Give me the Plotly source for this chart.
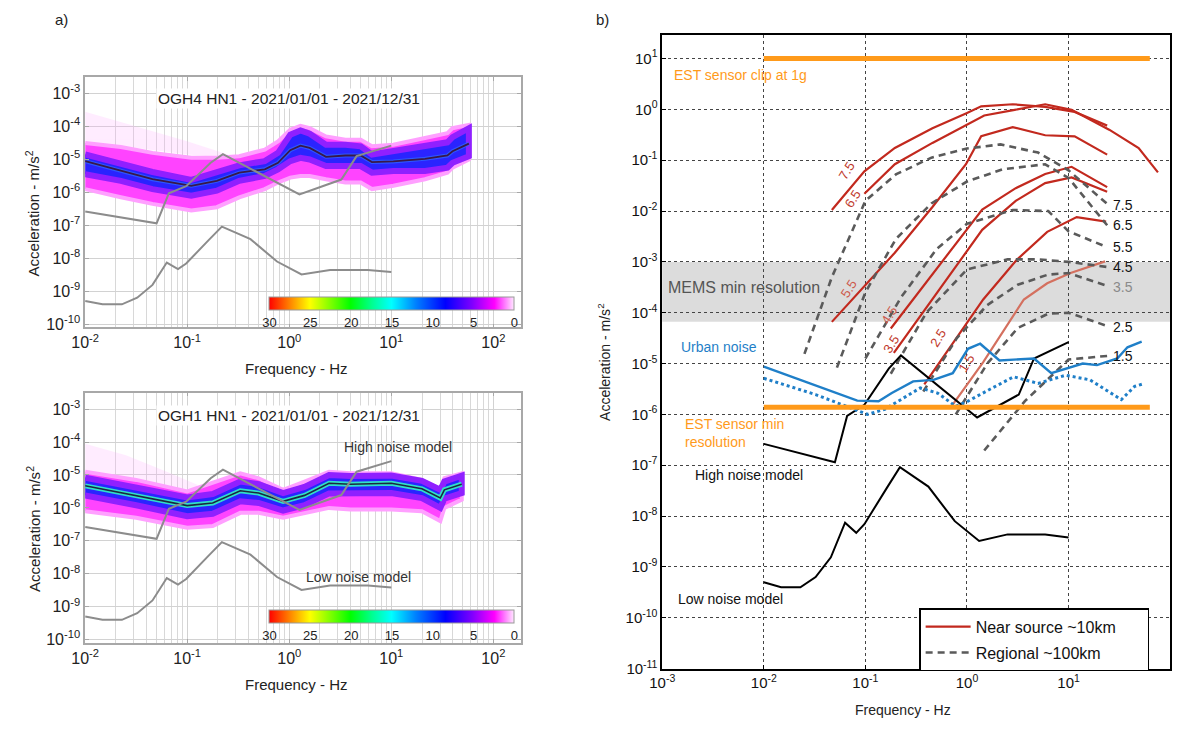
import numpy as np
import plotly.graph_objects as go

W, H = 1181, 731

# ---------------- data (log10 Hz, log10 m/s^2) ----------------
# Peterson noise models
nhnm_logf = [-2.0, -1.30, -1.18, -1.01, -0.77, -0.65, 0.10, 0.51, 0.66, 1.0]
nhnm_loga = [-6.58, -6.94, -6.03, -5.81, -5.10, -4.84, -6.06, -5.61, -4.90, -4.58]
nlnm_logf = [-2.0, -1.83, -1.64, -1.49, -1.34, -1.20, -1.09, -1.01, -0.79, -0.66, -0.38, -0.12, 0.12, 0.40, 0.77, 1.0]
nlnm_loga = [-9.30, -9.40, -9.40, -9.20, -8.81, -8.13, -8.33, -8.16, -7.45, -7.04, -7.42, -8.10, -8.49, -8.36, -8.36, -8.42]

# OGH4 HN1 PPSD
ogh4_logf = [-2.0, -1.65, -1.34, -0.96, -0.71, -0.49, -0.24, -0.11, 0.01, 0.11, 0.20, 0.36, 0.55, 0.70, 0.81, 1.02, 1.33, 1.55, 1.60, 1.76]
ogh4_mode = [-5.05, -5.35, -5.60, -5.80, -5.65, -5.40, -5.30, -5.10, -4.72, -4.58, -4.65, -4.92, -4.88, -4.88, -5.08, -5.06, -4.98, -4.88, -4.75, -4.52]
ogh4_pink_hi = [-4.50, -4.62, -4.80, -4.95, -4.95, -4.90, -4.70, -4.45, -4.10, -3.98, -4.05, -4.30, -4.40, -4.40, -4.60, -4.55, -4.35, -4.20, -4.05, -3.95]
ogh4_pink_lo = [-5.90, -6.15, -6.35, -6.55, -6.45, -6.15, -5.90, -5.70, -5.55, -5.50, -5.50, -5.60, -5.70, -5.70, -5.90, -5.80, -5.60, -5.40, -5.25, -5.00]
ogh4_blue_hi = [-4.85, -5.12, -5.38, -5.62, -5.40, -5.18, -5.05, -4.80, -4.25, -4.12, -4.22, -4.55, -4.55, -4.60, -4.85, -4.75, -4.62, -4.48, -4.32, -4.05]
ogh4_blue_lo = [-5.45, -5.65, -5.90, -6.10, -5.95, -5.65, -5.50, -5.30, -5.05, -4.95, -5.00, -5.20, -5.20, -5.20, -5.40, -5.35, -5.35, -5.25, -5.10, -4.90]
ogh4_haze_logf = [-2.0, -1.5, -1.0, -0.6]
ogh4_haze_hi = [-3.55, -4.00, -4.45, -4.85]
ogh4_haze_lo = [-4.50, -4.65, -4.85, -4.95]

# OGH1 HN1 PPSD
ogh1_logf = [-2.0, -1.5, -1.0, -0.75, -0.48, -0.30, -0.06, 0.15, 0.39, 0.60, 1.00, 1.30, 1.48, 1.52, 1.69]
ogh1_mode = [-5.33, -5.62, -5.93, -5.85, -5.48, -5.55, -5.80, -5.62, -5.25, -5.28, -5.25, -5.42, -5.70, -5.45, -5.28]
ogh1_pink_hi = [-4.90, -5.15, -5.50, -5.25, -4.95, -5.10, -5.45, -5.20, -4.90, -4.95, -4.95, -5.15, -5.45, -5.10, -4.95]
ogh1_pink_lo = [-6.10, -6.30, -6.60, -6.55, -6.15, -6.15, -6.30, -6.15, -6.00, -6.05, -6.05, -6.10, -6.40, -6.00, -5.75]
ogh1_blue_hi = [-5.08, -5.37, -5.68, -5.58, -5.20, -5.28, -5.55, -5.36, -5.00, -5.03, -5.02, -5.18, -5.45, -5.20, -5.02]
ogh1_blue_lo = [-5.62, -5.92, -6.25, -6.18, -5.80, -5.85, -6.08, -5.92, -5.56, -5.58, -5.55, -5.70, -6.00, -5.72, -5.55]
ogh1_haze_logf = [-2.0, -1.6, -1.2, -0.9]
ogh1_haze_hi = [-4.05, -4.40, -4.90, -5.30]
ogh1_haze_lo = [-4.95, -5.15, -5.45, -5.40]

colorbar_ticks = [0, 5, 10, 15, 20, 25, 30]
colorbar_labels = ["30", "25", "20", "15", "10", "5", "0"]

# tick labels
left_xtick_vals = [1e-2, 1e-1, 1e0, 1e1, 1e2]
left_xtick_text = ["10<sup>-2</sup>", "10<sup>-1</sup>", "10<sup>0</sup>", "10<sup>1</sup>", "10<sup>2</sup>"]
left_ytick_vals = [1e-10, 1e-9, 1e-8, 1e-7, 1e-6, 1e-5, 1e-4, 1e-3]
left_ytick_text = ["10<sup>-10</sup>", "10<sup>-9</sup>", "10<sup>-8</sup>", "10<sup>-7</sup>",
                   "10<sup>-6</sup>", "10<sup>-5</sup>", "10<sup>-4</sup>", "10<sup>-3</sup>"]
right_xtick_vals = [1e-3, 1e-2, 1e-1, 1e0, 1e1, 1e2]
right_xtick_text = ["10<sup>-3</sup>", "10<sup>-2</sup>", "10<sup>-1</sup>", "10<sup>0</sup>",
                    "10<sup>1</sup>", "10<sup>2</sup>"]
right_ytick_vals = [1e-11, 1e-10, 1e-9, 1e-8, 1e-7, 1e-6, 1e-5, 1e-4, 1e-3, 1e-2, 1e-1, 1e0, 1e1]
right_ytick_text = ["10<sup>-11</sup>", "10<sup>-10</sup>", "10<sup>-9</sup>", "10<sup>-8</sup>",
                    "10<sup>-7</sup>", "10<sup>-6</sup>", "10<sup>-5</sup>", "10<sup>-4</sup>",
                    "10<sup>-3</sup>", "10<sup>-2</sup>", "10<sup>-1</sup>", "10<sup>0</sup>",
                    "10<sup>1</sup>"]

# Near source ~10 km (red)
near_mags = ["7.5", "6.5", "5.5", "4.5", "3.5", "2.5", "1.5"]
near_logf = [
    [-1.33, -1.01, -0.71, -0.34, -0.01, 0.14, 0.45, 0.77, 1.06, 1.38],
    [-1.01, -0.71, -0.34, -0.01, 0.17, 0.47, 0.77, 1.03, 1.40, 1.69, 1.88],
    [-1.33, -1.01, -0.71, -0.34, -0.01, 0.14, 0.45, 0.77, 1.06, 1.38],
    [-0.75, 0.15, 0.48, 0.77, 1.03, 1.38],
    [-0.72, 0.15, 0.48, 0.77, 1.03, 1.38],
    [-0.42, 0.0, 0.16, 0.49, 0.79, 1.08, 1.37],
    [-0.16, 0.16, 0.56, 0.79, 1.02, 1.36],
]
near_loga = [
    [-1.98, -1.22, -0.76, -0.37, -0.08, 0.06, 0.10, 0.05, -0.05, -0.32],
    [-1.66, -1.08, -0.66, -0.30, -0.12, -0.01, 0.10, -0.01, -0.40, -0.76, -1.24],
    [-4.18, -3.47, -2.82, -1.92, -1.08, -0.53, -0.35, -0.51, -0.53, -0.89],
    [-4.31, -1.97, -1.55, -1.27, -1.13, -1.53],
    [-4.79, -2.37, -1.80, -1.45, -1.34, -1.62],
    [-5.41, -4.19, -3.74, -2.96, -2.41, -2.12, -2.21],
    [-5.86, -4.97, -3.74, -3.42, -3.22, -2.99],
]
near_label_pos = [(-1.18, -1.21), (-1.12, -1.76), (-1.16, -3.53), (-0.77, -4.05), (-0.75, -4.62), (-0.29, -4.50), (-0.01, -4.99)]

# Regional ~100 km (grey dashed)
reg_mags = ["7.5", "6.5", "5.5", "4.5", "3.5", "2.5", "1.5"]
reg_logf = [
    [-1.60, -1.33, -1.0, -0.7, -0.35, 0.0, 0.33, 0.7, 1.0, 1.38],
    [-1.28, -1.0, -0.7, -0.35, 0.0, 0.35, 0.77, 1.0, 1.38],
    [-1.0, -0.65, -0.3, 0.0, 0.45, 0.8, 1.0, 1.38],
    [-0.75, -0.4, 0.0, 0.4, 0.7, 1.0, 1.38],
    [-0.43, -0.1, 0.2, 0.5, 0.8, 1.0, 1.38],
    [-0.11, 0.2, 0.5, 0.8, 1.0, 1.38],
    [0.17, 0.57, 1.0, 1.38],
]
reg_loga = [
    [-4.81, -3.30, -1.80, -1.28, -0.95, -0.77, -0.69, -0.85, -1.20, -1.86],
    [-5.08, -3.60, -2.55, -1.85, -1.42, -1.18, -1.08, -1.35, -2.28],
    [-4.90, -3.70, -2.75, -2.25, -1.98, -2.00, -2.40, -2.71],
    [-5.20, -4.00, -3.15, -2.95, -2.95, -3.00, -3.10],
    [-5.55, -4.50, -3.85, -3.45, -3.25, -3.22, -3.47],
    [-6.00, -5.00, -4.30, -4.02, -4.00, -4.26],
    [-6.71, -5.74, -4.92, -4.85],
]
reg_label_loga = [-1.89, -2.28, -2.71, -3.10, -3.50, -4.28, -4.86]

# Urban noise (solid and dotted)
urban_logf = [-2.0, -1.08, -0.87, -0.74, -0.53, -0.33, -0.14, 0.01, 0.13, 0.32, 0.66, 0.83, 1.14, 1.28, 1.48, 1.58, 1.72]
urban_loga = [-5.06, -5.73, -5.74, -5.58, -5.35, -5.32, -5.19, -4.71, -4.61, -4.94, -4.90, -5.19, -5.00, -5.03, -4.90, -4.68, -4.57]
urban2_logf = [-2.0, -1.49, -0.98, -0.81, -0.46, -0.29, -0.11, 0.0, 0.25, 0.46, 0.70, 0.97, 1.21, 1.52, 1.65, 1.75]
urban2_loga = [-5.29, -5.61, -6.00, -5.90, -5.48, -5.58, -5.84, -5.75, -5.48, -5.26, -5.39, -5.23, -5.32, -5.71, -5.45, -5.39]

# EST sensor limits
est_logf = [-2.0, 1.80]
est_clip_loga = [1.0, 1.0]
est_min_loga = [-5.86, -5.86]
mems_band_loga = [-4.18, -3.0]

# ---------------- helpers ----------------
FONT = "Liberation Sans, Arial, Helvetica, sans-serif"
PAD = "&nbsp;" * 6


def P(v):
    return np.power(10.0, np.asarray(v, dtype=float))


def px(x):
    return x / W


def py(y):
    return 1 - y / H


fig = go.Figure()


def band(logf, lo, hi, fill, lc, lw, xa, ya):
    lf = list(logf)
    x = P(lf + lf[::-1])
    y = P(list(hi) + list(lo)[::-1])
    fig.add_trace(go.Scatter(x=x, y=y, mode="lines", fill="toself", fillcolor=fill,
                             line=dict(color=lc, width=lw), xaxis=xa, yaxis=ya,
                             showlegend=False, hoverinfo="skip"))


def line(logf, loga, color, width, xa, ya, dash="solid", name=None, legend=False, group=None, opacity=1):
    fig.add_trace(go.Scatter(x=P(logf), y=P(loga), mode="lines",
                             line=dict(color=color, width=width, dash=dash),
                             xaxis=xa, yaxis=ya, name=name, showlegend=legend,
                             legendgroup=group, hoverinfo="skip", opacity=opacity))


CSCALE = [[0.0, "#ff0000"], [0.083, "#ff8000"], [0.167, "#ffff00"], [0.25, "#80ff00"],
          [0.333, "#00ff00"], [0.42, "#00ff90"], [0.5, "#00ffff"], [0.6, "#0080ff"],
          [0.72, "#0000ff"], [0.83, "#8000ff"], [0.92, "#ff00ff"], [1.0, "#ffe8ff"]]

# ---------------- left panels ----------------
panels = [
    ("x", "y", ogh4_logf, ogh4_mode, ogh4_pink_lo, ogh4_pink_hi, ogh4_blue_lo, ogh4_blue_hi,
     ogh4_haze_logf, ogh4_haze_lo, ogh4_haze_hi, 300),
    ("x2", "y2", ogh1_logf, ogh1_mode, ogh1_pink_lo, ogh1_pink_hi, ogh1_blue_lo, ogh1_blue_hi,
     ogh1_haze_logf, ogh1_haze_lo, ogh1_haze_hi, 617),
]
for i, (xa, ya, lf, mode, plo, phi, blo, bhi, hf, hlo, hhi, cby) in enumerate(panels):
    band(hf, hlo, hhi, "rgba(255,170,255,0.22)", "rgba(255,190,255,0.0)", 0, xa, ya)
    band(lf, plo, phi, "#ff44ff", "#ffa0ff", 4, xa, ya)
    band(lf, blo, bhi, "#2a24ff", "#9020ff", 6, xa, ya)
    if i == 0:
        line(lf, mode, "#2f6bff", 4, xa, ya, opacity=0.7)
        line(lf, mode, "#3a1848", 1.8, xa, ya)
    else:
        line(lf, mode, "#30e0c8", 5, xa, ya)
        line(lf, mode, "#1a2a40", 1.6, xa, ya)
    line(nhnm_logf, nhnm_loga, "#8c8c8c", 2, xa, ya)
    line(nlnm_logf, nlnm_loga, "#8c8c8c", 2, xa, ya)
    # colour scale (hits per bin)
    fig.add_trace(go.Scatter(
        x=[1.0, 1.0], y=[1e-3, 1e-3], mode="markers", xaxis=xa, yaxis=ya, showlegend=False,
        hoverinfo="skip",
        marker=dict(color=[0, 30], cmin=0, cmax=30, colorscale=CSCALE, opacity=0, size=1,
                    showscale=True,
                    colorbar=dict(orientation="h", x=px(382.5), y=py(cby), xanchor="center",
                                  yanchor="top", len=245, lenmode="pixels", thickness=13,
                                  thicknessmode="pixels", tickvals=colorbar_ticks,
                                  ticktext=colorbar_labels, ticks="", outlinewidth=1,
                                  outlinecolor="#999", xpad=0, ypad=0,
                                  tickfont=dict(size=13, color="#222", family=FONT))),
    ))

# ---------------- right panel ----------------
XA, YA = "x3", "y3"
line(est_logf, est_clip_loga, "#ff9a1a", 5, XA, YA)

for k in range(len(near_mags)):
    col = "#d4705f" if near_mags[k] == "1.5" else "#c2291e"
    line(near_logf[k], near_loga[k], col, 2.2, XA, YA,
         name="Near source ~10km" + PAD, legend=(k == 0), group="near")
for k in range(len(reg_mags)):
    line(reg_logf[k], reg_loga[k], "#5a5a5a", 2.6, XA, YA, dash="7px,5px",
         name="Regional ~100km" + PAD, legend=(k == 0), group="reg")

line(nhnm_logf, nhnm_loga, "#000000", 2, XA, YA)
line(nlnm_logf, nlnm_loga, "#000000", 2, XA, YA)
line(urban_logf, urban_loga, "#1f7fc8", 2.4, XA, YA)
line(urban2_logf, urban2_loga, "#1f7fc8", 3, XA, YA, dash="dot")
line(est_logf, est_min_loga, "#ff9a1a", 5, XA, YA)

shapes = [dict(type="rect", xref="x3 domain", yref="y3", x0=0, x1=1,
               y0=float(P(mems_band_loga[0])), y1=float(P(mems_band_loga[1])),
               fillcolor="#dcdcdc", line=dict(width=0), layer="below")]

# ---------------- axes ----------------
LEFT_X = dict(type="log", range=[-2, 2.27], tickmode="array", tickvals=left_xtick_vals,
              ticktext=left_xtick_text,
              showline=True, linecolor="#a8a8a8", linewidth=1.5, mirror="ticks",
              ticks="inside", ticklen=4, tickcolor="#a8a8a8",
              showgrid=True, gridcolor="#d2d2d2", gridwidth=1,
              minor=dict(dtick="D1", showgrid=True, gridcolor="#d8d8d8", ticks=""),
              tickfont=dict(size=16, color="#222", family=FONT), zeroline=False)
LEFT_Y = dict(type="log", range=[-10.1, -2.5], tickmode="array", tickvals=left_ytick_vals,
              ticktext=left_ytick_text,
              showline=True, linecolor="#a8a8a8", linewidth=1.5, mirror="ticks",
              ticks="inside", ticklen=4, tickcolor="#a8a8a8",
              showgrid=True, gridcolor="#d2d2d2", gridwidth=1,
              tickfont=dict(size=16, color="#222", family=FONT), zeroline=False)

fig.update_layout(
    xaxis=dict(LEFT_X, domain=[px(72), px(513)], anchor="y"),
    yaxis=dict(LEFT_Y, domain=[py(331), py(78)], anchor="x"),
    xaxis2=dict(LEFT_X, domain=[px(72), px(513)], anchor="y2"),
    yaxis2=dict(LEFT_Y, domain=[py(650), py(397)], anchor="x2"),
    xaxis3=dict(type="log", range=[-3, 2], tickmode="array", tickvals=right_xtick_vals,
                ticktext=right_xtick_text,
                domain=[px(656), px(1170)], anchor="y3",
                showline=True, linecolor="#000", linewidth=1.5, mirror=True,
                ticks="inside", ticklen=4, tickcolor="#000",
                showgrid=True, gridcolor="#444", griddash="dot", gridwidth=1,
                tickfont=dict(size=15, color="#111", family=FONT), zeroline=False),
    yaxis3=dict(type="log", range=[-11, 1.47], tickmode="array", tickvals=right_ytick_vals,
                ticktext=right_ytick_text,
                domain=[py(676), py(35)], anchor="x3",
                showline=True, linecolor="#000", linewidth=1.5, mirror=True,
                ticks="inside", ticklen=4, tickcolor="#000",
                showgrid=True, gridcolor="#444", griddash="dot", gridwidth=1,
                tickfont=dict(size=15, color="#111", family=FONT), zeroline=False),
)

# ---------------- text ----------------
ann = []


def A(text, x, y, xref="paper", yref="paper", size=14, color="#222", xanchor="center",
      yanchor="middle", angle=0, bg=None, align="center"):
    d = dict(text=text, x=x, y=y, xref=xref, yref=yref, showarrow=False,
             font=dict(size=size, color=color, family=FONT), xanchor=xanchor,
             yanchor=yanchor, textangle=angle, align=align)
    if bg:
        d.update(bgcolor=bg, borderpad=1)
    ann.append(d)


A("a)", px(48), py(20), size=15)
A("b)", px(596), py(20), size=15)
A("OGH4 HN1 - 2021/01/01 - 2021/12/31", 0.0, -3.15, "x", "y", size=15.5, color="#222", bg="white")
A("OGH1 HN1 - 2021/01/01 - 2021/12/31", 0.0, -3.2, "x2", "y2", size=15.5, color="#222", bg="white")
A("High noise model", 0.52, -4.15, "x2", "y2", size=14, color="#333", xanchor="left")
A("Low noise model", 0.14, -8.1, "x2", "y2", size=14, color="#333", xanchor="left")
for yy in (216, 535):
    A("Acceleration - m/s<sup>2</sup>", px(19), py(yy), size=15, angle=-90)
A("Frequency - Hz", px(286), py(373), size=15)
A("Frequency - Hz", px(286), py(692), size=15)
A("Acceleration - m/s<sup>2</sup>", px(597), py(366), size=14, angle=-90)
A("Frequency - Hz", px(900), py(718), size=14)

A("EST sensor clip at 1g", -2.9, 0.68, "x3", "y3", size=14, color="#ff9a1a", xanchor="left")
A("MEMS min resolution", -2.96, -3.5, "x3", "y3", size=16, color="#555", xanchor="left")
A("Urban noise", -2.83, -4.68, "x3", "y3", size=14, color="#1f7fc8", xanchor="left")
A("EST sensor min<br>resolution", -2.8, -6.36, "x3", "y3", size=14, color="#ff9a1a",
  xanchor="left", align="left")
A("High noise model", -2.70, -7.19, "x3", "y3", size=14, color="#111", xanchor="left")
A("Low noise model", -2.86, -9.64, "x3", "y3", size=14, color="#111", xanchor="left")

for k, m in enumerate(near_mags):
    lx, ly = near_label_pos[k]
    col = "#cd5a4c" if m in ("5.5", "4.5") else "#c0392b"
    A(m, lx, ly, "x3", "y3", size=13, color=col, angle=-58)
for k, m in enumerate(reg_mags):
    col = "#8a8a8a" if m == "3.5" else "#111"
    A(m, 1.42, reg_label_loga[k], "x3", "y3", size=14, color=col, xanchor="left")

fig.update_layout(
    width=W, height=H, margin=dict(l=0, r=0, t=0, b=0),
    paper_bgcolor="white", plot_bgcolor="white",
    font=dict(family=FONT, color="#222"),
    annotations=ann, shapes=shapes,
    legend=dict(x=px(916), y=py(615), xanchor="left", yanchor="top",
                bordercolor="#000", borderwidth=1.5, bgcolor="white",
                font=dict(size=16, color="#111", family=FONT), itemwidth=45,
                tracegroupgap=2),
)

fig.write_html("out.html")
